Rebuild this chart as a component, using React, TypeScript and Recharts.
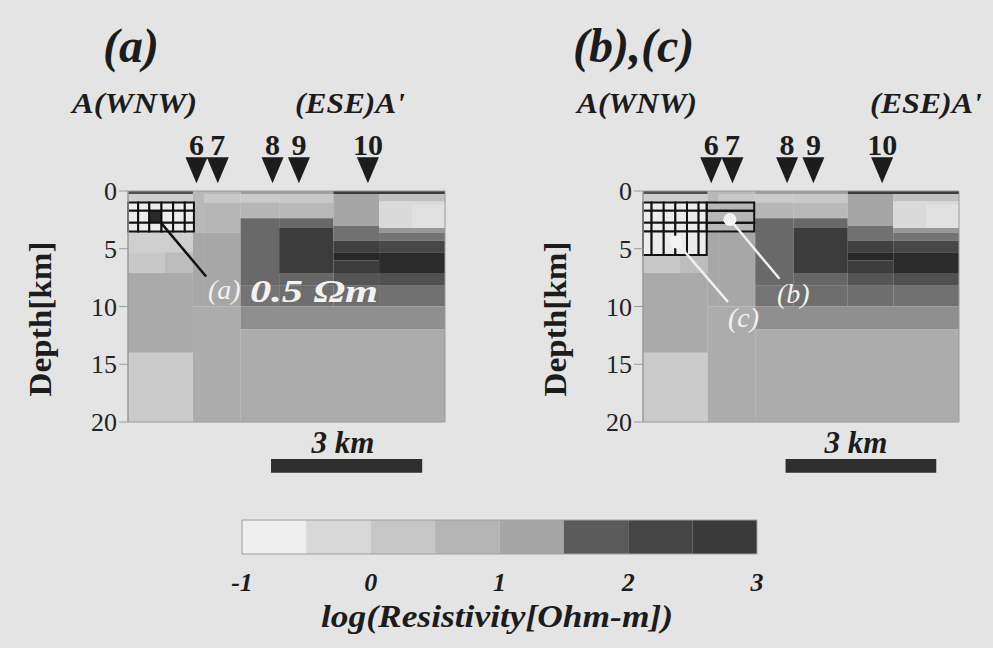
import React from 'react';
import { ComposedChart, XAxis, YAxis, ReferenceArea, ReferenceDot, Line, Scatter } from 'recharts';

const SERIF = "'Liberation Serif', 'Times New Roman', Times, serif";

// Resistivity model blocks: [x from (km), x to (km), depth from (km), depth to (km), log10 resistivity]
const modelBlocks: [number, number, number, number, number][] = [
  [0, 1.28, 0, 0.25, 2.0],
  [1.28, 2.22, 0, 0.25, 0.6],
  [2.22, 4.05, 0, 0.25, 1.3],
  [4.05, 6.25, 0, 0.25, 2.6],
  [0, 1.28, 0.25, 1.0, 0.0],
  [0, 1.28, 1.0, 3.5, -0.55],
  [0, 1.28, 3.5, 5.3, 0.0],
  [0, 0.72, 5.3, 7.1, 0.2],
  [0.72, 1.28, 5.3, 7.1, 0.5],
  [0, 1.28, 7.1, 14, 1.1],
  [0, 1.28, 14, 20, 0.1],
  [1.28, 1.5, 0.25, 3.6, 0.65],
  [1.28, 1.5, 3.6, 10, 1.2],
  [1.5, 2.22, 0.25, 1.0, 0.2],
  [1.5, 2.22, 1.0, 3.6, 0.7],
  [1.5, 2.22, 3.6, 10, 1.2],
  [1.28, 2.22, 10, 20, 1.05],
  [2.22, 2.98, 0.25, 1.0, 0.15],
  [2.22, 2.98, 1.0, 2.35, 0.7],
  [2.22, 2.98, 2.35, 8.2, 1.65],
  [2.22, 2.98, 8.2, 10, 1.58],
  [2.98, 4.05, 0.25, 1.0, 0.2],
  [2.98, 4.05, 1.0, 2.35, 0.6],
  [2.98, 4.05, 2.35, 3.2, 1.65],
  [2.98, 4.05, 3.2, 7.1, 2.65],
  [2.98, 4.05, 7.1, 8.2, 1.67],
  [2.98, 4.05, 8.2, 10, 1.62],
  [4.05, 4.95, 0.25, 3.0, 1.25],
  [4.05, 4.95, 3.0, 4.3, 1.6],
  [4.05, 4.95, 4.3, 5.3, 2.5],
  [4.05, 4.95, 5.3, 6.0, 3.0],
  [4.05, 4.95, 6.0, 7.1, 2.6],
  [4.05, 4.95, 7.1, 8.2, 1.87],
  [4.05, 4.95, 8.2, 10, 1.62],
  [4.95, 6.25, 0.25, 0.9, 0.4],
  [4.95, 6.25, 0.9, 3.2, -0.3],
  [5.6, 6.25, 1.2, 3.2, -0.45],
  [4.95, 6.25, 3.2, 3.6, 1.35],
  [4.95, 6.25, 3.6, 4.3, 1.58],
  [4.95, 6.25, 4.3, 5.3, 2.2],
  [4.95, 6.25, 5.3, 7.1, 2.95],
  [4.95, 6.25, 7.1, 8.2, 2.0],
  [4.95, 6.25, 8.2, 10, 1.6],
  [2.22, 6.25, 10, 12, 1.4],
  [2.22, 6.25, 12, 20, 1.05],
];

const profileLength = 6.25; // km
const depthTicks = [0, 5, 10, 15, 20];

const stations = [
  { name: '6', x: 1.35 },
  { name: '7', x: 1.77 },
  { name: '8', x: 2.85 },
  { name: '9', x: 3.37 },
  { name: '10', x: 4.73 },
];
const stationDepth = -1.79;

// Test-block grids
const gridXa = [0, 0.2, 0.42, 0.66, 0.89, 1.12, 1.3];
const gridDa = [1.0, 1.7, 2.75, 3.5];
const gridXb = [0, 0.17, 0.41, 0.64, 0.87, 1.1, 1.26];
const gridDbLeft = [1.0, 1.7, 2.75, 3.5, 5.55];
const gridXbRight = [1.26, 2.2];
const gridDbRight = [1.0, 1.7, 2.75, 3.5];
const testValue = -0.7; // light fill inside grid
const darkCell = { col: 2, row: 1 };

// Leader lines and marked points
const leaderA = [{ x: 0.66, y: 2.8 }, { x: 1.54, y: 7.4 }];
const leaderB = [{ x: 1.72, y: 2.47 }, { x: 2.7, y: 7.6 }];
const leaderC = [{ x: 0.66, y: 4.41 }, { x: 1.68, y: 9.6 }];
const pointsBC = [{ x: 1.72, y: 2.47 }, { x: 0.66, y: 4.41 }];

// Scale bar (km)
const scaleBar = { from: 2.82, to: 5.8, d1: 23.2, d2: 24.4 };

// Colour bar
const cbEdges = [-1, -0.5, 0, 0.5, 1, 1.5, 2, 2.5, 3];
const cbColors = ['#eeeeee', '#d8d8d8', '#c6c6c6', '#b4b4b4', '#a6a6a6', '#5a5a5a', '#454545', '#3a3a3a'];
const cbTicks = [-1, 0, 1, 2, 3];

// gray ramp anchors derived from colour bar bin centres
const rampV = [-1, ...cbEdges.slice(0, -1).map((e, i) => (e + cbEdges[i + 1]) / 2), 3];
const rampG = [242, ...cbColors.map((c) => parseInt(c.slice(1, 3), 16)), 40];
function grayFor(v: number): string {
  let g = rampG[0];
  if (v <= rampV[0]) g = rampG[0];
  else if (v >= rampV[rampV.length - 1]) g = rampG[rampG.length - 1];
  else {
    for (let i = 0; i < rampV.length - 1; i++) {
      if (v >= rampV[i] && v <= rampV[i + 1]) {
        const t = (v - rampV[i]) / (rampV[i + 1] - rampV[i]);
        g = rampG[i] + t * (rampG[i + 1] - rampG[i]);
        break;
      }
    }
  }
  const n = Math.round(g);
  return `rgb(${n},${n},${n})`;
}

const stationShape = (name: string) => (props: any) => {
  const { cx, cy } = props;
  return (
    <g>
      <polygon points={`${cx - 11},${cy - 13} ${cx + 11},${cy - 13} ${cx},${cy + 13}`} fill="#1c1c1c" />
      <text x={cx} y={cy - 15} textAnchor="middle" fontFamily={SERIF} fontWeight="bold" fontSize={30} fill="#1c1c1c">
        {name}
      </text>
    </g>
  );
};

const whiteDot = (props: any) => <circle cx={props.cx} cy={props.cy} r={6.5} fill="#f4f4f4" />;

function modelAreas(prefix: string) {
  return modelBlocks.map((b, i) => (
    <ReferenceArea
      key={`${prefix}-m${i}`}
      x1={b[0]}
      x2={b[1]}
      y1={b[2]}
      y2={b[3]}
      fill={grayFor(b[4])}
      fillOpacity={1}
      stroke="none"
      ifOverflow="visible"
    />
  ));
}

function frameAndStations(prefix: string) {
  const out: any[] = [];
  out.push(
    <ReferenceArea key={`${prefix}-frame`} x1={0} x2={profileLength} y1={0} y2={20} fill="none" stroke="#9a9a9a" strokeWidth={1} ifOverflow="visible" />
  );
  stations.forEach((s) =>
    out.push(
      <ReferenceDot key={`${prefix}-st${s.name}`} x={s.x} y={stationDepth} ifOverflow="visible" shape={stationShape(s.name)} />
    )
  );
  out.push(
    <ReferenceArea key={`${prefix}-sb`} x1={scaleBar.from} x2={scaleBar.to} y1={scaleBar.d1} y2={scaleBar.d2} fill="#2e2e2e" fillOpacity={1} stroke="none" ifOverflow="visible" />
  );
  return out;
}

function gridCells(prefix: string, xs: number[], ds: number[], fillValue: number | null, dark?: { col: number; row: number }) {
  const out: any[] = [];
  for (let r = 0; r < ds.length - 1; r++) {
    for (let c = 0; c < xs.length - 1; c++) {
      const isDark = dark && dark.col === c && dark.row === r;
      out.push(
        <ReferenceArea
          key={`${prefix}-g${r}-${c}`}
          x1={xs[c]}
          x2={xs[c + 1]}
          y1={ds[r]}
          y2={ds[r + 1]}
          fill={isDark ? '#2a2a2a' : fillValue === null ? 'none' : grayFor(fillValue)}
          fillOpacity={isDark || fillValue !== null ? 1 : 0}
          stroke="#111"
          strokeWidth={2}
          ifOverflow="visible"
        />
      );
    }
  }
  return out;
}

const yAxisEl = (
  <YAxis
    type="number"
    dataKey="y"
    domain={[0, 20]}
    allowDataOverflow
    reversed
    ticks={depthTicks}
    interval={0}
    width={60}
    tickSize={9}
    tickMargin={2}
    axisLine={{ stroke: '#9a9a9a' }}
    tickLine={{ stroke: '#9a9a9a' }}
    tick={{ fontSize: 26, fill: '#222', fontFamily: SERIF }}
  />
);
const xAxisEl = <XAxis type="number" dataKey="x" domain={[0, profileLength]} allowDataOverflow hide />;

function PanelA() {
  return (
    <ComposedChart width={500} height={500} margin={{ top: 191, right: 55, bottom: 78, left: 68 }} data={leaderA}>
      {xAxisEl}
      {yAxisEl}
      {modelAreas('a')}
      {gridCells('a', gridXa, gridDa, testValue, darkCell)}
      {frameAndStations('a')}
      <Line data={leaderA} dataKey="y" stroke="#111" strokeWidth={2.5} dot={false} isAnimationActive={false} />
    </ComposedChart>
  );
}

function PanelB() {
  return (
    <ComposedChart width={493} height={500} margin={{ top: 191, right: 34, bottom: 78, left: 83 }} data={pointsBC}>
      {xAxisEl}
      {yAxisEl}
      {modelAreas('b')}
      {gridCells('bl', gridXb, gridDbLeft, testValue)}
      {gridCells('br', gridXbRight, gridDbRight, null)}
      {frameAndStations('b')}
      <Line data={leaderB} dataKey="y" stroke="#f0f0f0" strokeWidth={2.5} dot={false} isAnimationActive={false} />
      <Line data={leaderC} dataKey="y" stroke="#f0f0f0" strokeWidth={2.5} dot={false} isAnimationActive={false} />
      <Scatter data={pointsBC} dataKey="y" shape={whiteDot} isAnimationActive={false} />
    </ComposedChart>
  );
}

const cbTick = (p: any) => (
  <text x={p.x} y={p.y} textAnchor="middle" fontFamily={SERIF} fontWeight="bold" fontStyle="italic" fontSize={26} fill="#1c1c1c">
    {p.payload.value}
  </text>
);

const cbData = cbEdges.map((v) => ({ v, y: 0.5 }));

function ColorBar() {
  return (
    <ComposedChart width={993} height={148} margin={{ top: 20, right: 236, bottom: 54, left: 242 }} data={cbData}>
      <XAxis type="number" dataKey="v" domain={[-1, 3]} allowDataOverflow ticks={cbTicks} interval={0} height={40} tickSize={0} tickMargin={37} axisLine={false} tickLine={false} tick={cbTick} />
      <YAxis type="number" dataKey="y" domain={[0, 1]} allowDataOverflow hide />
      {cbColors.map((c, i) => (
        <ReferenceArea key={`cb${i}`} x1={cbEdges[i]} x2={cbEdges[i + 1]} y1={0} y2={1} fill={c} fillOpacity={1} stroke="none" />
      ))}
      <ReferenceArea x1={-1} x2={3} y1={0} y2={1} fill="none" stroke="#a0a0a0" strokeWidth={1} />
    </ComposedChart>
  );
}

type TProps = {
  x: number; y: number; size: number; children: React.ReactNode;
  bold?: boolean; italic?: boolean; anchor?: 'start' | 'middle' | 'end'; fill?: string; len?: number; rotate?: number;
};
function T({ x, y, size, children, bold = true, italic = true, anchor = 'start', fill = '#1c1c1c', len, rotate }: TProps) {
  return (
    <text
      x={x}
      y={y}
      fontSize={size}
      fontFamily={SERIF}
      fontWeight={bold ? 'bold' : 'normal'}
      fontStyle={italic ? 'italic' : 'normal'}
      textAnchor={anchor}
      fill={fill}
      textLength={len}
      lengthAdjust={len ? 'spacingAndGlyphs' : undefined}
      transform={rotate ? `rotate(${rotate}, ${x}, ${y})` : undefined}
    >
      {children}
    </text>
  );
}

export default function App() {
  return (
    <div style={{ position: 'absolute', left: 0, top: 0, width: 993, height: 648, background: '#e4e4e4', overflow: 'hidden' }}>
      <div style={{ position: 'absolute', left: 0, top: 0 }}>
        <PanelA />
      </div>
      <div style={{ position: 'absolute', left: 500, top: 0 }}>
        <PanelB />
      </div>
      <div style={{ position: 'absolute', left: 0, top: 500 }}>
        <ColorBar />
      </div>
      <svg style={{ position: 'absolute', left: 0, top: 0, pointerEvents: 'none' }} width={993} height={648}>
        <T x={103} y={62} size={48}>(a)</T>
        <T x={573} y={62} size={48}>(b),(c)</T>
        <T x={72} y={113} size={29} len={125}>A(WNW)</T>
        <T x={295} y={113} size={29} len={110}>(ESE)A'</T>
        <T x={577} y={113} size={29} len={120}>A(WNW)</T>
        <T x={870} y={113} size={29} len={112}>(ESE)A'</T>
        <T x={51} y={319} size={31} italic={false} anchor="middle" len={155} rotate={-90}>Depth[km]</T>
        <T x={566} y={319} size={31} italic={false} anchor="middle" len={155} rotate={-90}>Depth[km]</T>
        <T x={208} y={299} size={28} bold={false} fill="#f2f2f2">(a)</T>
        <T x={250} y={302} size={32} fill="#f2f2f2" len={128}>0.5 Ωm</T>
        <T x={777} y={303} size={28} bold={false} fill="#f2f2f2">(b)</T>
        <T x={728} y={327} size={28} bold={false} fill="#f2f2f2">(c)</T>
        <T x={343} y={453} size={31} anchor="middle">3 km</T>
        <T x={856} y={453} size={31} anchor="middle">3 km</T>
        <T x={497} y={627} size={31} anchor="middle" len={352}>log(Resistivity[Ohm-m])</T>
      </svg>
    </div>
  );
}
